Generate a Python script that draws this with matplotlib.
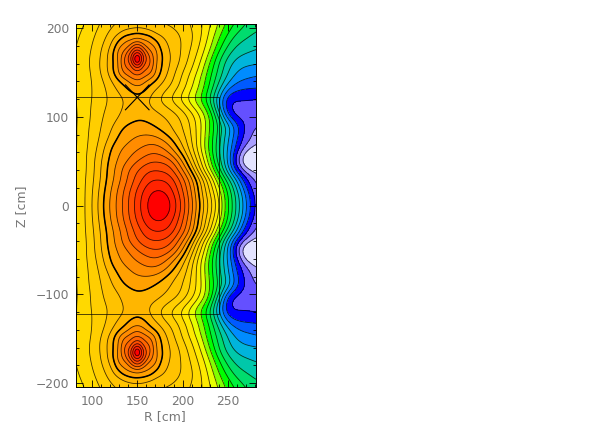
import numpy as np
import matplotlib
matplotlib.use('Agg')
import matplotlib.pyplot as plt
import matplotlib.tri as mtri
from matplotlib.colors import ListedColormap, BoundaryNorm
from matplotlib.ticker import MultipleLocator

# major radius columns of the table [cm]
rGrid = [80, 90, 100, 110, 120, 130, 140, 150, 160, 170, 180, 190, 200, 210, 220, 230, 240, 250, 260, 270, 280, 290]
# heights of the rows [cm], the lower half is the mirror image
zGrid = [0, 10, 20, 30, 40, 50, 60, 70, 80, 90, 100, 110, 120, 130, 140, 150, 160, 170, 180, 190, 200, 210]

# flux, in units of contour levels
psiGrid = [
    [25.6, 26.7, 27.9, 29.6, 31.1, 32.5, 34.0, 35.5, 37.0, 37.9, 37.8, 36.7, 34.6, 32.4, 29.7, 27.6, 25.1, 22.0, 19.8, 17.0, 14.8, 13.6],
    [25.6, 26.7, 27.9, 29.5, 31.0, 32.4, 33.9, 35.4, 36.8, 37.6, 37.5, 36.4, 34.4, 32.2, 29.5, 27.4, 24.9, 22.0, 19.7, 16.9, 14.7, 13.5],
    [25.6, 26.7, 27.8, 29.3, 30.8, 32.2, 33.6, 35.0, 36.3, 36.9, 36.8, 35.7, 33.9, 31.8, 29.2, 26.7, 24.1, 21.5, 18.9, 16.0, 14.2, 13.3],
    [25.6, 26.7, 27.7, 29.1, 30.5, 31.7, 33.1, 34.4, 35.5, 36.0, 35.9, 35.1, 33.4, 31.3, 28.8, 26.0, 23.0, 20.4, 17.7, 15.0, 13.9, 13.0],
    [25.6, 26.6, 27.6, 29.0, 30.5, 31.6, 33.0, 34.0, 34.8, 35.0, 34.8, 34.0, 32.0, 29.8, 26.8, 24.1, 21.4, 18.4, 15.3, 13.4, 12.4, 12.2],
    [25.6, 26.6, 27.6, 28.9, 30.3, 31.2, 32.0, 33.0, 33.7, 34.0, 33.9, 32.9, 31.0, 28.5, 26.1, 23.4, 20.4, 18.0, 14.0, 11.6, 11.3, 11.2],
    [25.6, 26.6, 27.5, 28.6, 30.1, 31.0, 31.6, 32.2, 32.7, 33.0, 32.4, 31.2, 29.6, 27.6, 25.2, 22.7, 20.1, 17.8, 15.0, 12.6, 11.8, 11.7],
    [25.6, 26.5, 27.4, 28.3, 29.6, 30.5, 31.0, 31.5, 31.9, 32.0, 31.4, 30.2, 28.9, 27.1, 25.0, 22.6, 20.3, 18.0, 15.8, 14.2, 13.2, 13.0],
    [25.6, 26.5, 27.3, 28.1, 29.0, 30.1, 30.6, 30.9, 31.0, 30.8, 30.1, 29.2, 28.3, 26.9, 25.1, 22.8, 20.5, 18.3, 16.2, 14.6, 13.6, 13.4],
    [25.6, 26.5, 27.2, 28.0, 28.7, 29.6, 30.2, 30.3, 30.2, 29.9, 29.4, 28.8, 28.0, 26.8, 25.2, 23.0, 20.8, 18.6, 16.3, 14.8, 14.0, 13.9],
    [25.6, 26.4, 27.1, 27.9, 28.4, 29.0, 29.5, 29.85, 29.8, 29.5, 29.0, 28.5, 27.7, 26.5, 25.0, 23.0, 20.0, 15.9, 14.9, 14.5, 14.5, 14.5],
    [25.7, 26.4, 27.1, 27.8, 28.2, 28.9, 29.3, 29.75, 29.3, 28.8, 28.3, 27.6, 26.7, 25.5, 23.9, 22.0, 18.4, 14.9, 14.6, 14.5, 14.4, 14.4],
    [25.7, 26.4, 27.0, 27.6, 28.1, 28.7, 29.2, 29.8, 29.2, 28.3, 27.5, 26.6, 25.6, 24.3, 22.8, 21.0, 18.0, 15.1, 15.1, 15.1, 15.0, 15.0],
    [25.7, 26.4, 27.0, 27.6, 28.3, 29.2, 29.9, 30.4, 29.9, 29.0, 28.1, 27.3, 26.2, 25.0, 23.5, 21.6, 19.2, 16.7, 16.0, 15.8, 15.8, 15.8],
    [25.8, 26.4, 27.0, 27.7, 28.7, 29.9, 31.0, 31.75, 31.0, 29.9, 28.9, 27.9, 26.7, 25.3, 23.8, 22.0, 20.1, 18.2, 17.1, 16.8, 16.6, 16.5],
    [25.8, 26.4, 27.1, 28.0, 29.4, 31.1, 32.5, 33.6, 32.5, 31.0, 29.4, 28.2, 27.0, 25.8, 24.4, 22.3, 20.7, 19.0, 17.9, 17.5, 17.3, 17.2],
    [25.8, 26.5, 27.2, 28.1, 29.4, 31.3, 33.6, 36.9, 33.6, 31.3, 29.6, 28.6, 27.6, 26.3, 24.9, 22.9, 20.9, 19.4, 18.5, 18.2, 18.1, 18.0],
    [25.8, 26.5, 27.1, 28.0, 29.4, 31.4, 33.7, 37.0, 33.7, 31.4, 29.6, 28.7, 27.8, 26.7, 25.4, 23.7, 21.6, 20.1, 19.2, 18.9, 18.7, 18.6],
    [25.8, 26.3, 27.0, 27.8, 28.9, 30.8, 31.8, 33.7, 31.8, 30.8, 29.2, 28.6, 27.9, 27.0, 25.8, 24.3, 22.5, 20.9, 19.9, 19.5, 19.2, 19.1],
    [25.7, 26.2, 26.8, 27.5, 28.4, 29.5, 30.4, 30.7, 30.4, 29.5, 28.9, 28.4, 27.9, 27.2, 26.1, 24.7, 23.1, 21.7, 20.6, 20.1, 19.7, 19.5],
    [25.5, 26.0, 26.6, 27.2, 27.9, 28.4, 28.8, 29.0, 28.8, 28.4, 28.2, 28.0, 27.6, 27.0, 26.2, 25.0, 23.7, 22.4, 21.4, 20.7, 20.2, 20.0],
    [25.3, 25.8, 26.3, 26.9, 27.5, 27.9, 28.1, 28.2, 28.1, 27.9, 27.8, 27.6, 27.2, 26.8, 26.2, 25.2, 24.0, 22.9, 22.0, 21.2, 20.7, 20.4],
]

# finer table around the upper island, replaces the coarse one there
rIsland = [135, 140, 145, 150, 155, 160, 165]
zIsland = [140, 145, 150, 155, 160, 165, 170, 175, 180, 185, 190]
psiIsland = [
    [30.4, 31.0, 31.5, 31.75, 31.5, 31.0, 30.4],
    [31.3, 31.8, 32.3, 32.6, 32.3, 31.8, 31.3],
    [32.0, 32.5, 33.2, 33.6, 33.2, 32.5, 32.0],
    [32.5, 33.2, 34.0, 35.0, 34.0, 33.2, 32.5],
    [32.9, 33.6, 35.2, 37.2, 35.2, 33.6, 32.9],
    [32.8, 34.0, 36.0, 38.6, 35.9, 34.0, 32.8],
    [32.4, 33.7, 35.5, 37.4, 35.5, 33.7, 32.4],
    [31.8, 32.9, 34.3, 35.3, 34.3, 32.9, 31.8],
    [31.2, 31.8, 33.0, 33.7, 33.0, 31.8, 31.2],
    [30.8, 31.1, 31.5, 31.9, 31.5, 31.1, 30.8],
    [30.1, 30.4, 30.6, 30.7, 30.6, 30.4, 30.1],
]

# colour of each band between two contour levels, lowest first
bandColours = [
    '#e4e4ff', '#aaa0ff', '#6450ff', '#0000ff', '#005aff', '#008cff', '#00b4dc',
    '#00c8aa', '#00dc6e', '#00f03c', '#00ff00', '#82ff00', '#e6ff00', '#ffea00',
    '#ffd900', '#ffce00', '#ffc200', '#ffb600', '#ffa000', '#ff8c00', '#ff7800',
    '#ff6400', '#ff4f00', '#ff3700', '#ff2300', '#ff0000',
]
# the lowest band runs from below the table up to the first line
fillLevels = [11] + list(range(13, 38)) + [39]
lineLevels = list(range(13, 38))
sepLevel = 30

# lines drawn on top of the flux map
boxR = [82.5, 240, 240, 82.5]
boxZ = [122, 122, -122, -122]
xArmsR = [[137, 163], [163, 137]]
xArmsZ = [[108, 136], [108, 136]]

xTicks = [100, 150, 200, 250]
yTicks = [-200, -100, 0, 100, 200]


def blur(field, sigma, step):
    # plain gaussian blur along both axes, no scipy here
    half = int(3 * sigma / step) + 1
    x = np.arange(-half, half + 1) * step
    kernel = np.exp(-0.5 * (x / sigma) ** 2)
    kernel = kernel / kernel.sum()
    out = np.pad(field, half, mode='edge')
    out = np.apply_along_axis(lambda m: np.convolve(m, kernel, mode='same'), 0, out)
    out = np.apply_along_axis(lambda m: np.convolve(m, kernel, mode='same'), 1, out)
    return out[half:-half, half:-half]


# collect the nodes, upper half first
rr, zz = np.meshgrid(np.array(rGrid, float), np.array(zGrid, float))
psi = np.array(psiGrid)
keep = ~((rr >= 135) & (rr <= 165) & (zz >= 140) & (zz <= 190))
ri, zi = np.meshgrid(np.array(rIsland, float), np.array(zIsland, float))
rUp = np.concatenate([rr[keep], ri.ravel()])
zUp = np.concatenate([zz[keep], zi.ravel()])
psiUp = np.concatenate([psi[keep], np.array(psiIsland).ravel()])

low = zUp > 0
rAll = np.concatenate([rUp, rUp[low]])
zAll = np.concatenate([zUp, -zUp[low]])
psiAll = np.concatenate([psiUp, psiUp[low]])

# the table is coarse, so go to a fine mesh and take the corners off
tri = mtri.Triangulation(rAll, zAll)
interp = mtri.CubicTriInterpolator(tri, psiAll, kind='min_E')
step = 1.0
rFine = np.arange(80, 290 + step, step)
zFine = np.arange(-210, 210 + step, step)
rMesh, zMesh = np.meshgrid(rFine, zFine)
psiFine = np.ma.filled(interp(rMesh, zMesh), 20.0)
soft = blur(psiFine, 6.0, step)
sharp = blur(psiFine, 2.5, step)
dist = np.sqrt(((rMesh - 150) / 30) ** 2 + ((np.abs(zMesh) - 165) / 38) ** 2)
w = np.clip((dist - 0.7) / 0.5, 0, 1)
psiPlot = w * soft + (1 - w) * sharp

fig = plt.figure(figsize=(6.10, 4.36), dpi=100)
ax = fig.add_axes([76 / 610, 1 - 387 / 436, (255.7 - 76) / 610, (387 - 24.3) / 436])

cmap = ListedColormap(bandColours)
norm = BoundaryNorm(fillLevels, cmap.N)
ax.contourf(rMesh, zMesh, psiPlot, levels=fillLevels, cmap=cmap, norm=norm, extend='both')
ax.contour(rMesh, zMesh, psiPlot, levels=lineLevels, colors='k', linewidths=0.6, alpha=0.75)
ax.contour(rMesh, zMesh, psiPlot, levels=[sepLevel], colors='k', linewidths=1.1)

ax.plot(boxR, boxZ, color='k', lw=0.6, alpha=0.8)
for i in range(len(xArmsR)):
    ax.plot(xArmsR[i], xArmsZ[i], color='k', lw=0.8)

ax.set_xlim(82.5, 280.5)
ax.set_ylim(-204.3, 204.3)
ax.set_xticks(xTicks)
ax.set_yticks(yTicks)
ax.set_yticklabels(['\u2212200', '\u2212100', '0', '100', '200'])
ax.xaxis.set_minor_locator(MultipleLocator(10))
ax.yaxis.set_minor_locator(MultipleLocator(20))
ax.tick_params(which='major', direction='in', top=True, right=True, length=5, width=0.6,
               labelsize=8.8, labelcolor='#767676', pad=5)
ax.tick_params(axis='x', which='major', pad=6)
ax.tick_params(which='minor', direction='in', top=True, right=True, length=2.5, width=0.6)
for s in ax.spines.values():
    s.set_linewidth(0.7)

fig.text(165 / 610, 1 - 417 / 436, 'R [cm]', color='#767676', fontsize=9, ha='center', va='center')
fig.text(22 / 610, 1 - 206 / 436, 'Z [cm]', color='#767676', fontsize=9, ha='center', va='center', rotation=90)

fig.savefig('out.png', dpi=100)
